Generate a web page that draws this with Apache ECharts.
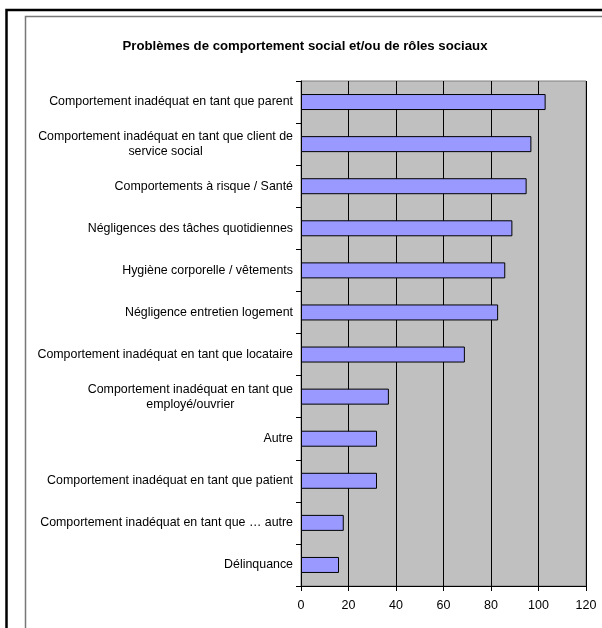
<!DOCTYPE html>
<html>
<head>
<meta charset="utf-8">
<script src="https://cdn.jsdelivr.net/npm/echarts@6/dist/echarts.min.js"></script>
<style>html,body{margin:0;padding:0;background:#fff;}#c{width:602px;height:628px;}</style>
</head>
<body>
<div id="c"></div>
<script>
const title = "Problèmes de comportement social et/ou de rôles sociaux";
const categories = [
  "Comportement inadéquat en tant que parent",
  "Comportement inadéquat en tant que client de\nservice social",
  "Comportements à risque / Santé",
  "Négligences des tâches quotidiennes",
  "Hygiène corporelle / vêtements",
  "Négligence entretien logement",
  "Comportement inadéquat en tant que locataire",
  "Comportement inadéquat en tant que\nemployé/ouvrier",
  "Autre",
  "Comportement inadéquat en tant que patient",
  "Comportement inadéquat en tant que … autre",
  "Délinquance"
];
const values = [103, 97, 95, 89, 86, 83, 69, 37, 32, 32, 18, 16];
const xTicks = [0, 20, 40, 60, 80, 100, 120];

const FONT = '"Liberation Sans", Arial, sans-serif';
const chart = echarts.init(document.getElementById('c'), null, {renderer: 'canvas'});
chart.setOption({
  animation: false,
  backgroundColor: '#ffffff',
  title: {
    text: title,
    left: 300, textAlign: 'center', top: 35,
    textStyle: {fontFamily: FONT, fontSize: 13.2, fontWeight: 'bold', color: '#000'}
  },
  graphic: [
    {type: 'rect', shape: {x: 6.5, y: 10, width: 700, height: 700},
     style: {fill: 'none', stroke: '#000', lineWidth: 2.5}, silent: true},
    {type: 'rect', shape: {x: 25.5, y: 16.5, width: 700, height: 700},
     style: {fill: 'none', stroke: '#777', lineWidth: 1.5}, silent: true}
  ],
  grid: {
    left: 301, right: 16, top: 81, bottom: 42,
    show: true, backgroundColor: '#C0C0C0', borderColor: '#808080', borderWidth: 1
  },
  xAxis: {
    type: 'value', min: xTicks[0], max: xTicks[xTicks.length - 1], interval: 20,
    axisLine: {show: true, lineStyle: {color: '#000', width: 1}},
    axisTick: {show: true, length: 5, lineStyle: {color: '#000'}},
    axisLabel: {fontFamily: FONT, fontSize: 12.5, color: '#000', margin: 13},
    splitLine: {show: true, lineStyle: {color: '#000', width: 1}}
  },
  yAxis: {
    type: 'category', data: categories, inverse: true,
    axisLine: {show: true, lineStyle: {color: '#000', width: 1}},
    axisTick: {show: true, length: 5, lineStyle: {color: '#000'}},
    axisLabel: {
      align: 'right', margin: 8, color: '#000', fontFamily: FONT, fontSize: 12.4,
      formatter: function (v) {
        return v.split('\n').map(function (s) { return '{c|' + s + '}'; }).join('\n');
      },
      rich: {c: {align: 'center', fontFamily: FONT, fontSize: 12.4, color: '#000', lineHeight: 15}}
    },
    splitLine: {show: false}
  },
  series: [{
    type: 'bar', data: values, barWidth: 16,
    itemStyle: {color: '#9999FF', borderColor: '#000', borderWidth: 1}
  }]
});
</script>
</body>
</html>
